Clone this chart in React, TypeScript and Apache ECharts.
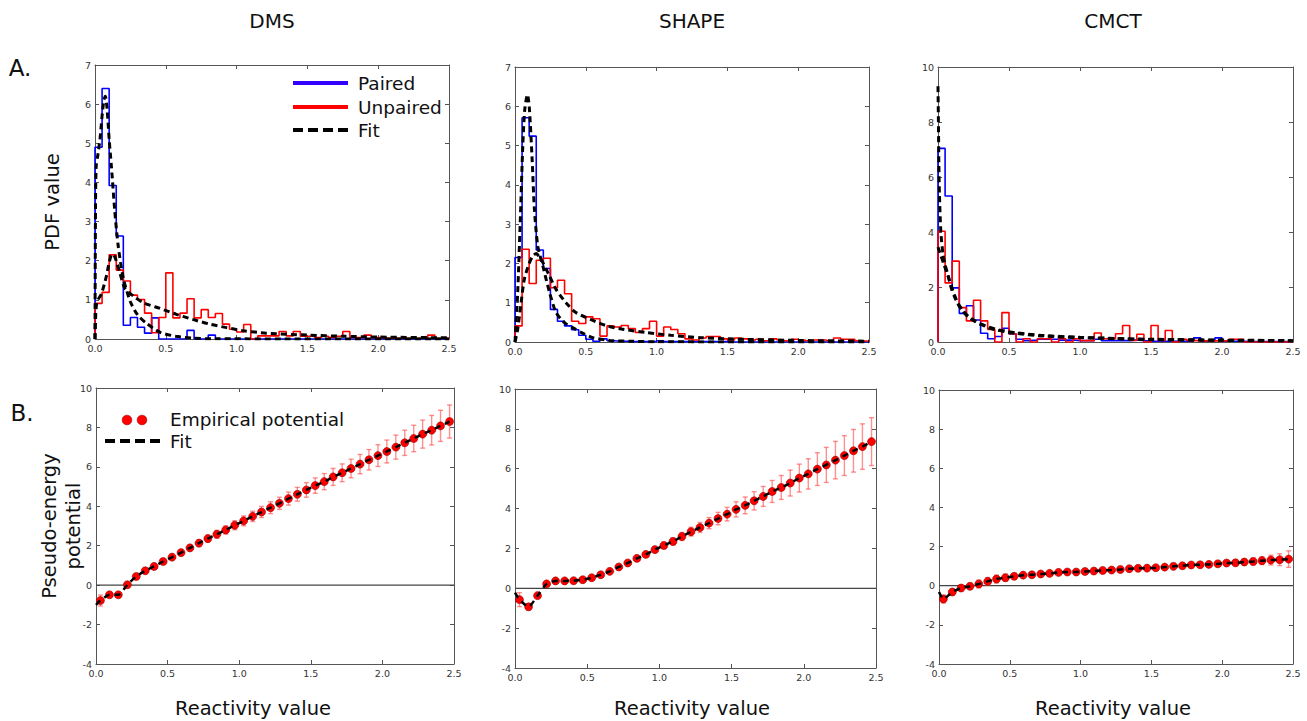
import React, { useEffect, useRef } from "react";
import * as echarts from "echarts";

// ---------- DATA ----------
const binWidth = 0.05;
const binCount = 50;

const dmsPaired = [4.9, 6.4, 3.92, 2.63, 0.35, 0.55, 0.3, 0.15, 0.54, 0, 0, 0, 0, 0.22, 0, 0, 0.1, 0, 0, 0,
  0, 0, 0, 0, 0, 0, 0, 0, 0, 0, 0, 0, 0, 0, 0, 0, 0, 0, 0, 0, 0, 0, 0, 0, 0, 0, 0, 0, 0, 0];
const dmsUnpaired = [0.91, 1.19, 2.15, 1.76, 1.48, 1.12, 1.01, 0.66, 0.16, 0.55, 1.69, 0.54, 0.66, 1.03, 0.54, 0.75, 0.55, 0.65, 0.38, 0.25,
  0.18, 0.37, 0, 0.08, 0.08, 0.08, 0.19, 0.08, 0.19, 0.07, 0.07, 0.04, 0.07, 0.04, 0.07, 0.19, 0.04, 0.04, 0.1, 0.04,
  0.04, 0.02, 0.02, 0.02, 0.02, 0.02, 0.02, 0.1, 0.02, 0.02];
const shapePaired = [2.15, 5.71, 5.24, 2.34, 1.87, 0.83, 0.53, 0.41, 0.31, 0.17, 0.07, 0.02, 0.08, 0.03, 0.02, 0.02, 0.01, 0.01, 0.01, 0.01,
  0.03, 0.01, 0.01, 0.01, 0.01, 0.01, 0.01, 0.01, 0.01, 0.01, 0, 0, 0, 0, 0, 0, 0, 0, 0, 0, 0, 0, 0, 0, 0, 0, 0, 0, 0, 0];
const shapeUnpaired = [0.41, 2.36, 1.49, 2.08, 2.13, 1.38, 1.57, 1.23, 0.53, 0.47, 0.64, 0.59, 0.15, 0.41, 0.38, 0.42, 0.34, 0.24, 0.34, 0.53,
  0.15, 0.38, 0.32, 0.21, 0.08, 0.05, 0.1, 0.14, 0.14, 0.08, 0.05, 0.1, 0.08, 0.05, 0.07, 0.03, 0.08, 0.05, 0.03, 0.07,
  0.05, 0.03, 0.05, 0.05, 0.03, 0.1, 0.07, 0.07, 0.03, 0.02];
const cmctPaired = [7.04, 5.31, 1.97, 1.04, 1.32, 0.8, 0.32, 0.12, 0.2, 0.5, 0.29, 0.1, 0.05, 0.07, 0.1, 0.1, 0.1, 0.07, 0.07, 0.05,
  0.05, 0.05, 0.1, 0.05, 0.05, 0.05, 0.05, 0.07, 0.05, 0.03, 0.03, 0.03, 0.03, 0.03, 0.03, 0.03, 0.15, 0.03, 0.03, 0.15,
  0.03, 0.03, 0.03, 0.02, 0.02, 0.02, 0.02, 0.02, 0.02, 0.02];
const cmctUnpaired = [4.03, 2.15, 2.94, 1.25, 0.77, 1.52, 0.77, 0.46, 0, 1.07, 0.3, 0, 0.12, 0, 0.12, 0.12, 0, 0.12, 0, 0.12,
  0.05, 0.05, 0.33, 0.12, 0.12, 0.3, 0.6, 0.06, 0.28, 0, 0.6, 0.06, 0.42, 0, 0.1, 0.06, 0.04, 0.04, 0.04, 0.04,
  0.04, 0.1, 0.1, 0, 0, 0, 0, 0, 0, 0];

// fitted PDFs: [reactivity, density]
const dmsPairedFit = [[0, 0], [0.003, 3.0], [0.008, 4.4], [0.02, 4.7], [0.035, 5.1], [0.05, 5.7], [0.063, 6.1], [0.073, 6.2], [0.085, 5.9],
  [0.1, 5.1], [0.116, 4.4], [0.139, 3.3], [0.163, 2.4], [0.2, 1.55], [0.25, 0.95], [0.3, 0.62], [0.36, 0.41], [0.46, 0.17], [0.57, 0.07],
  [0.69, 0.02], [0.85, 0.005], [2.5, 0]];
const dmsUnpairedFit = [[0, 0], [0.005, 0.6], [0.014, 0.95], [0.045, 1.15], [0.08, 1.6], [0.1, 1.95], [0.12, 2.17], [0.14, 2.1], [0.175, 1.7],
  [0.21, 1.3], [0.27, 1.1], [0.34, 0.93], [0.46, 0.78], [0.575, 0.63], [0.69, 0.5], [0.81, 0.38], [0.93, 0.29], [1.05, 0.21], [1.21, 0.15],
  [1.5, 0.1], [1.75, 0.07], [2.0, 0.05], [2.5, 0.03]];
const shapePairedFit = [[0, 0], [0.019, 1.26], [0.036, 2.95], [0.055, 4.99], [0.069, 5.92], [0.088, 6.3], [0.102, 5.92], [0.121, 4.65],
  [0.137, 3.38], [0.161, 2.44], [0.197, 1.93], [0.244, 1.26], [0.29, 0.75], [0.35, 0.49], [0.41, 0.36], [0.47, 0.24], [0.55, 0.11],
  [0.67, 0.04], [0.81, 0.02], [1.0, 0.005], [2.5, 0]];
const shapeUnpairedFit = [[0, 0], [0.019, 0.32], [0.043, 1.0], [0.066, 1.6], [0.1, 2.0], [0.126, 2.19], [0.15, 2.25], [0.175, 2.15],
  [0.197, 2.02], [0.244, 1.68], [0.29, 1.34], [0.36, 1.0], [0.43, 0.75], [0.53, 0.58], [0.65, 0.41], [0.77, 0.32], [0.93, 0.24],
  [1.1, 0.17], [1.31, 0.11], [1.5, 0.08], [2.0, 0.04], [2.5, 0.02]];
const cmctPairedFit = [[0, 9.3], [0.003, 8.0], [0.006, 6.5], [0.01, 5.4], [0.02, 4.0], [0.035, 3.2], [0.05, 2.8], [0.07, 2.45],
  [0.094, 1.95], [0.12, 1.6], [0.14, 1.38], [0.17, 1.15], [0.21, 0.92], [0.26, 0.75], [0.31, 0.62], [0.4, 0.45], [0.54, 0.32],
  [0.73, 0.22], [1.0, 0.16], [1.25, 0.12], [1.5, 0.09], [2.0, 0.06], [2.5, 0.04]];
const cmctUnpairedFit = [[0, 3.45], [0.02, 3.15], [0.04, 2.85], [0.06, 2.55], [0.08, 2.25], [0.1, 1.95], [0.12, 1.65], [0.14, 1.42],
  [0.17, 1.18], [0.21, 0.95], [0.26, 0.77], [0.31, 0.64], [0.4, 0.47], [0.54, 0.34], [0.73, 0.24], [1.0, 0.17], [1.25, 0.13],
  [1.5, 0.1], [2.0, 0.07], [2.5, 0.05]];

// pseudo-energy potentials
const potentialX = [0.031, 0.094, 0.156, 0.219, 0.281, 0.344, 0.406, 0.469, 0.531, 0.594, 0.656, 0.719, 0.781, 0.844, 0.906, 0.969,
  1.031, 1.094, 1.156, 1.219, 1.281, 1.344, 1.406, 1.469, 1.531, 1.594, 1.656, 1.719, 1.781, 1.844, 1.906, 1.969, 2.031, 2.094,
  2.156, 2.219, 2.281, 2.344, 2.406, 2.469];
const dmsPotential = [-0.78, -0.49, -0.49, 0.02, 0.44, 0.73, 0.95, 1.2, 1.42, 1.65, 1.89, 2.13, 2.36, 2.58, 2.8, 3.04, 3.26, 3.49,
  3.71, 3.93, 4.15, 4.39, 4.61, 4.83, 5.05, 5.25, 5.49, 5.7, 5.92, 6.14, 6.36, 6.57, 6.78, 7.0, 7.22, 7.44, 7.66, 7.86, 8.08, 8.3];
const dmsError = [0.28, 0.12, 0.1, 0.1, 0.1, 0.1, 0.1, 0.12, 0.13, 0.15, 0.15, 0.17, 0.18, 0.2, 0.21, 0.23, 0.25, 0.26, 0.28, 0.3,
  0.31, 0.33, 0.35, 0.37, 0.39, 0.41, 0.43, 0.45, 0.47, 0.49, 0.52, 0.55, 0.58, 0.61, 0.64, 0.67, 0.71, 0.75, 0.79, 0.84];
const shapePotential = [-0.57, -0.93, -0.37, 0.22, 0.37, 0.37, 0.38, 0.43, 0.53, 0.68, 0.85, 1.07, 1.27, 1.5, 1.7, 1.94, 2.15, 2.35,
  2.6, 2.84, 3.05, 3.27, 3.5, 3.72, 3.96, 4.16, 4.39, 4.61, 4.86, 5.06, 5.28, 5.53, 5.74, 5.98, 6.19, 6.43, 6.66, 6.9, 7.11, 7.36];
const shapeError = [0.35, 0.15, 0.1, 0.1, 0.08, 0.08, 0.08, 0.08, 0.08, 0.08, 0.1, 0.1, 0.1, 0.12, 0.12, 0.14, 0.16, 0.18, 0.2, 0.22,
  0.25, 0.28, 0.31, 0.34, 0.38, 0.42, 0.46, 0.5, 0.55, 0.6, 0.65, 0.7, 0.76, 0.82, 0.88, 0.94, 1.0, 1.07, 1.14, 1.2];
const cmctPotential = [-0.68, -0.32, -0.12, -0.03, 0.09, 0.22, 0.34, 0.41, 0.48, 0.54, 0.56, 0.6, 0.63, 0.68, 0.7, 0.7, 0.73, 0.75,
  0.78, 0.8, 0.83, 0.87, 0.89, 0.9, 0.92, 0.95, 0.99, 1.02, 1.06, 1.07, 1.09, 1.12, 1.16, 1.17, 1.21, 1.24, 1.28, 1.31, 1.33, 1.36];
const cmctError = [0.2, 0.15, 0.15, 0.15, 0.2, 0.2, 0.2, 0.18, 0.15, 0.12, 0.1, 0.08, 0.08, 0.08, 0.08, 0.08, 0.08, 0.08, 0.08, 0.1,
  0.1, 0.1, 0.1, 0.1, 0.1, 0.12, 0.12, 0.12, 0.12, 0.12, 0.12, 0.12, 0.12, 0.14, 0.15, 0.17, 0.2, 0.25, 0.3, 0.42];
// fitted potential at reactivity 0
const dmsFitAtZero = -1.0;
const shapeFitAtZero = -0.22;
const cmctFitAtZero = -0.32;

const titles = ["DMS", "SHAPE", "CMCT"];
const xTicksTop = [0, 2.5, 0.5];
const pdfMax = [7, 7, 10];
const pdfInterval = [1, 1, 2];
const potentialRange = [-4, 10, 2];

// ---------- LAYOUT ----------
const FONT = '"DejaVu Sans", Verdana, sans-serif';
const grids = [
  { left: 95, top: 65, width: 354, height: 274 },
  { left: 515, top: 67, width: 354, height: 275 },
  { left: 938, top: 67, width: 355, height: 275 },
  { left: 96, top: 388, width: 358, height: 276 },
  { left: 515, top: 389, width: 361, height: 279 },
  { left: 939, top: 390, width: 354, height: 274 },
];
const BLUE = "#0000ff";
const RED = "#ff0000";

function stepPoints(vals: number[]) {
  const pts: number[][] = [[0, 0]];
  for (let i = 0; i < binCount; i++) {
    const a = +(i * binWidth).toFixed(3);
    const b = +((i + 1) * binWidth).toFixed(3);
    pts.push([a, vals[i]]);
    pts.push([b, vals[i]]);
  }
  pts.push([binCount * binWidth, 0]);
  return pts;
}

function buildOption() {
  const axisColor = "#555";
  const xAxis: any[] = [];
  const yAxis: any[] = [];
  grids.forEach((_, g) => {
    const base = {
      gridIndex: g, type: "value", min: xTicksTop[0], max: xTicksTop[1], interval: xTicksTop[2],
      axisLine: { show: true, onZero: false, lineStyle: { color: axisColor, width: 1 } },
      axisTick: { show: true, inside: true, length: 4, lineStyle: { color: axisColor } },
      splitLine: { show: false },
    };
    xAxis.push({ ...base, position: "bottom",
      axisLabel: { fontSize: 9.5, color: "#333", margin: 4, fontFamily: FONT, formatter: (v: number) => v.toFixed(1) } });
    xAxis.push({ ...base, position: "top", axisLabel: { show: false } });
    const top = g < 3;
    const ybase = {
      gridIndex: g, type: "value",
      min: top ? 0 : potentialRange[0], max: top ? pdfMax[g] : potentialRange[1],
      interval: top ? pdfInterval[g] : potentialRange[2],
      axisLine: { show: true, onZero: false, lineStyle: { color: axisColor, width: 1 } },
      axisTick: { show: true, inside: true, length: 4, lineStyle: { color: axisColor } },
      splitLine: { show: false },
    };
    yAxis.push({ ...ybase, position: "left",
      axisLabel: { fontSize: 9.5, color: "#333", margin: 4, fontFamily: FONT, formatter: (v: number) => String(v) } });
    yAxis.push({ ...ybase, position: "right", axisLabel: { show: false } });
  });

  const hist = [[dmsPaired, dmsUnpaired], [shapePaired, shapeUnpaired], [cmctPaired, cmctUnpaired]];
  const fits = [[dmsPairedFit, dmsUnpairedFit], [shapePairedFit, shapeUnpairedFit], [cmctPairedFit, cmctUnpairedFit]];
  const pots = [[dmsPotential, dmsError, dmsFitAtZero], [shapePotential, shapeError, shapeFitAtZero], [cmctPotential, cmctError, cmctFitAtZero]];

  const series: any[] = [];
  for (let g = 0; g < 3; g++) {
    const ax = { xAxisIndex: 2 * g, yAxisIndex: 2 * g };
    series.push({ type: "line", ...ax, data: stepPoints(hist[g][0]), showSymbol: false, symbol: "none",
      lineStyle: { color: BLUE, width: 1.6 }, z: 2 });
    series.push({ type: "line", ...ax, data: stepPoints(hist[g][1]), showSymbol: false, symbol: "none",
      lineStyle: { color: RED, width: 1.6 }, z: 3 });
    fits[g].forEach((f) => {
      series.push({ type: "line", ...ax, data: f, showSymbol: false, symbol: "none", smooth: 0.25,
        lineStyle: { color: "#000", width: 3, type: [6, 4] }, z: 4 });
    });
  }
  for (let k = 0; k < 3; k++) {
    const g = k + 3;
    const ax = { xAxisIndex: 2 * g, yAxisIndex: 2 * g };
    const [vals, errs, f0] = pots[k] as [number[], number[], number];
    series.push({ type: "line", ...ax, data: [[0, 0], [2.5, 0]], showSymbol: false, symbol: "none",
      lineStyle: { color: "#444", width: 1.2 }, z: 1 });
    series.push({
      type: "custom", ...ax, z: 2,
      data: potentialX.map((x, i) => [x, vals[i], errs[i]]),
      encode: { x: 0, y: 1 },
      renderItem: (params: any, api: any) => {
        const x = api.value(0), y = api.value(1), e = api.value(2);
        const t = api.coord([x, y + e]);
        const b = api.coord([x, y - e]);
        const st = { stroke: "rgba(255,70,70,0.6)", lineWidth: 1.4 };
        return { type: "group", children: [
          { type: "line", shape: { x1: t[0], y1: t[1], x2: b[0], y2: b[1] }, style: st },
          { type: "line", shape: { x1: t[0] - 2.5, y1: t[1], x2: t[0] + 2.5, y2: t[1] }, style: st },
          { type: "line", shape: { x1: b[0] - 2.5, y1: b[1], x2: b[0] + 2.5, y2: b[1] }, style: st },
        ] };
      },
    });
    series.push({ type: "scatter", ...ax, data: potentialX.map((x, i) => [x, vals[i]]), symbolSize: 8,
      itemStyle: { color: RED, borderColor: "#900", borderWidth: 0.6, opacity: 1 }, z: 3 });
    series.push({ type: "line", ...ax, data: [[0, f0], ...potentialX.map((x, i) => [x, vals[i]])], showSymbol: false,
      symbol: "none", smooth: 0.2, lineStyle: { color: "#000", width: 2.5, type: [6, 5] }, z: 4 });
  }

  const txt = (text: string, x: number, y: number, size: number, extra: any = {}) => ({
    type: "text", x, y, ...extra,
    style: { text, font: `${size}px ${FONT}`, fill: "#111", textAlign: "center", textVerticalAlign: "middle",
      align: "center", verticalAlign: "middle", ...(extra.style || {}) },
  });
  const leg = (text: string, x: number, y: number) => ({
    type: "text", x, y,
    style: { text, font: `18.5px ${FONT}`, fill: "#111", textVerticalAlign: "middle", verticalAlign: "middle" },
  });
  const graphic: any[] = [
    txt(titles[0], 272, 21, 20), txt(titles[1], 692, 21, 20), txt(titles[2], 1113, 21, 20),
    txt("A.", 20, 68, 23), txt("B.", 22, 413, 23),
    { ...txt("PDF value", 52, 202, 19.5), rotation: Math.PI / 2 },
    { type: "text", x: 61, y: 526, rotation: Math.PI / 2,
      style: { text: "Pseudo-energy\npotential", font: `19.5px ${FONT}`, fill: "#111", lineHeight: 24,
        textAlign: "center", textVerticalAlign: "middle", align: "center", verticalAlign: "middle" } },
    txt("Reactivity value", 253, 708, 19.5), txt("Reactivity value", 692, 708, 19.5), txt("Reactivity value", 1113, 708, 19.5),
    // legend A
    { type: "line", shape: { x1: 293, y1: 83, x2: 348, y2: 83 }, style: { stroke: "#3300ff", lineWidth: 4 } },
    { type: "line", shape: { x1: 293, y1: 107, x2: 348, y2: 107 }, style: { stroke: RED, lineWidth: 4 } },
    { type: "line", shape: { x1: 293, y1: 130, x2: 348, y2: 130 }, style: { stroke: "#000", lineWidth: 4, lineDash: [10, 5] } },
    leg("Paired", 358, 83), leg("Unpaired", 358, 107), leg("Fit", 358, 130),
    // legend B
    { type: "circle", shape: { cx: 127, cy: 420, r: 4.8 }, style: { fill: RED, stroke: "#900", lineWidth: 0.6 } },
    { type: "circle", shape: { cx: 142, cy: 420, r: 4.8 }, style: { fill: RED, stroke: "#900", lineWidth: 0.6 } },
    { type: "line", shape: { x1: 105, y1: 441, x2: 162, y2: 441 }, style: { stroke: "#000", lineWidth: 4, lineDash: [10, 5] } },
    leg("Empirical potential", 170, 419), leg("Fit", 170, 441),
  ];

  return {
    animation: false,
    backgroundColor: "#fff",
    grid: grids.map((g) => ({ ...g, containLabel: false })),
    xAxis, yAxis, series, graphic,
  };
}

export default function App() {
  const ref = useRef<HTMLDivElement>(null);
  useEffect(() => {
    if (!ref.current) return;
    const chart = echarts.init(ref.current, undefined, { renderer: "svg" });
    chart.setOption(buildOption() as any);
    return () => chart.dispose();
  }, []);
  return <div ref={ref} style={{ position: "fixed", left: 0, top: 0, width: 1307, height: 721, background: "#fff" }} />;
}
